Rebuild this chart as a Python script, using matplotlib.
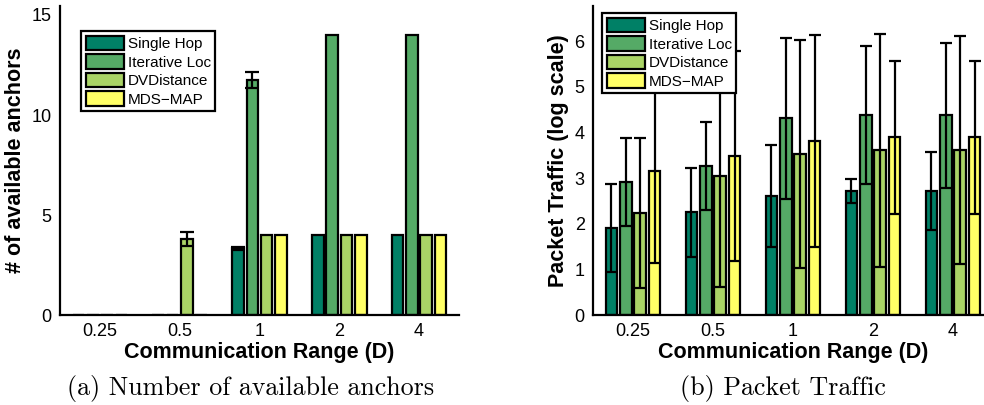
import matplotlib.pyplot as plt
import numpy as np

ranges = ["0.25", "0.5", "1", "2", "4"]
methods = ["Single Hop", "Iterative Loc", "DVDistance", "MDS\u2212MAP"]
colors = [(0.0, 0.5, 0.4), (0.333, 0.667, 0.4), (0.667, 0.833, 0.4), (1.0, 1.0, 0.4)]

# (a) number of available anchors, one list per method across ranges
anchors = [
    [0, 0, 3.33, 4, 4],
    [0, 0, 11.75, 14, 14],
    [0, 3.8, 4, 4, 4],
    [0, 0, 4, 4, 4],
]
anchors_err = [
    [0, 0, 0.06, 0, 0],
    [0, 0, 0.4, 0, 0],
    [0, 0.35, 0, 0, 0],
    [0, 0, 0, 0, 0],
]

# (b) packet traffic (log scale)
traffic = [
    [1.91, 2.25, 2.61, 2.72, 2.72],
    [2.92, 3.26, 4.31, 4.38, 4.38],
    [2.23, 3.04, 3.52, 3.61, 3.61],
    [3.16, 3.49, 3.81, 3.89, 3.89],
]
traffic_err = [
    [0.96, 0.97, 1.12, 0.27, 0.86],
    [0.96, 0.97, 1.76, 1.52, 1.59],
    [1.64, 2.42, 2.50, 2.55, 2.50],
    [2.01, 2.30, 2.32, 1.67, 1.68],
]

plt.rcParams["font.family"] = ["Liberation Sans", "DejaVu Sans"]

fig = plt.figure(figsize=(9.84, 4.05), dpi=100)
ax1 = fig.add_axes([60 / 984, 90 / 405, 399 / 984, 309 / 405])
ax2 = fig.add_axes([593 / 984, 90 / 405, 400 / 984, 309 / 405])

x = np.arange(1, len(ranges) + 1)
width = 0.145
step = 0.18


def draw(ax, vals, errs, ylim, yticks, ylabel, capsize, legend_xy):
    for i, (v, e, c, name) in enumerate(zip(vals, errs, colors, methods)):
        pos = x + (i - 1.5) * step
        ax.bar(pos, v, width, color=c, edgecolor="black", linewidth=1.6,
               label=name, zorder=2)
        e = np.array(e, dtype=float)
        m = e > 0
        ax.errorbar(pos[m], np.array(v)[m], yerr=e[m], fmt="none",
                    ecolor="black", elinewidth=1.6, capsize=capsize,
                    capthick=1.6, zorder=3)
    ax.set_xlim(0.5, 5.5)
    ax.set_ylim(*ylim)
    ax.set_xticks(x)
    ax.set_xticklabels(ranges)
    ax.set_yticks(yticks)
    ax.tick_params(length=0, labelsize=13, pad=6)
    for s in ["top", "right"]:
        ax.spines[s].set_visible(False)
    for s in ["left", "bottom"]:
        ax.spines[s].set_linewidth(1.6)
    ax.set_xlabel("Communication Range (D)", fontsize=15.5, fontweight="bold",
                  labelpad=1)
    ax.set_ylabel(ylabel, fontsize=15.5, fontweight="bold", labelpad=4)
    leg = ax.legend(loc="upper left", bbox_to_anchor=legend_xy,
                    bbox_transform=fig.transFigure, fontsize=11,
                    fancybox=False, framealpha=1, edgecolor="black",
                    handlelength=2.5, handleheight=1.1, handletextpad=0.25,
                    labelspacing=0.2, borderpad=0.3, borderaxespad=0)
    leg.get_frame().set_linewidth(1.6)
    leg.set_zorder(5)


draw(ax1, anchors, anchors_err, (0, 15.45), [0, 5, 10, 15],
     "# of available anchors", 5, (81 / 984, 1 - 31 / 405))
draw(ax2, traffic, traffic_err, (0, 6.77), range(7),
     "Packet Traffic (log scale)", 4, (602 / 984, 1 - 13 / 405))

fig.text(251 / 984, 1 - 388 / 405, "(a) Number of available anchors",
         family="cmr10", fontsize=18.7, ha="center", va="center")
fig.text(783 / 984, 1 - 388 / 405, "(b) Packet Traffic",
         family="cmr10", fontsize=18.7, ha="center", va="center")

fig.savefig("out.png", dpi=100)
